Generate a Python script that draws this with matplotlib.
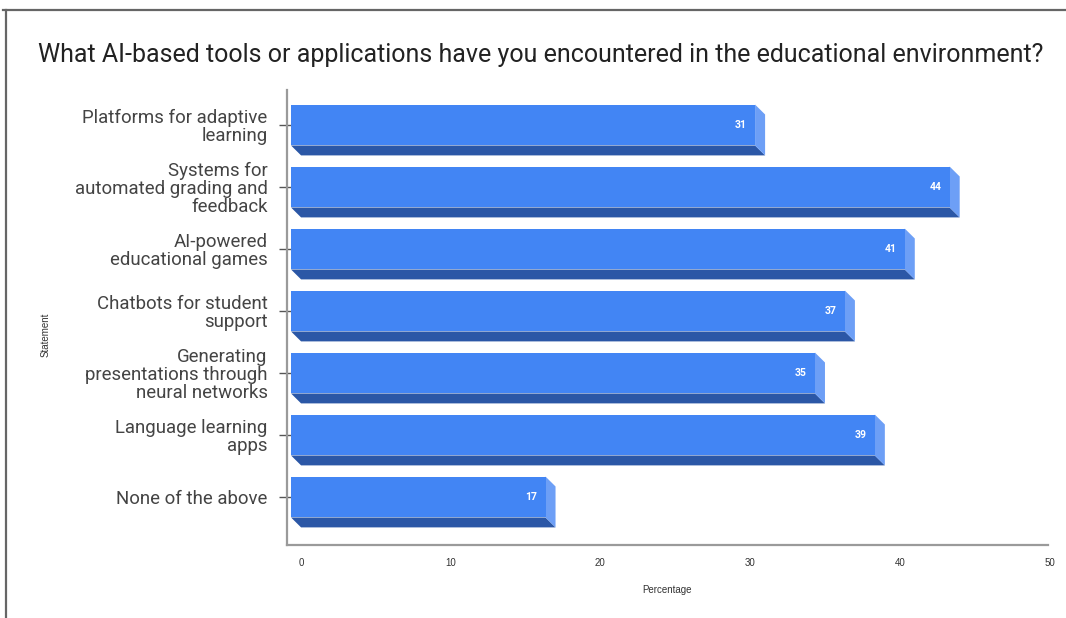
import matplotlib
matplotlib.use("Agg")
import matplotlib.pyplot as plt
import matplotlib.transforms as mtransforms
from matplotlib.patches import Polygon
from matplotlib.lines import Line2D

statements = [
    "Platforms for adaptive\nlearning",
    "Systems for\nautomated grading and\nfeedback",
    "AI-powered\neducational games",
    "Chatbots for student\nsupport",
    "Generating\npresentations through\nneural networks",
    "Language learning\napps",
    "None of the above",
]
percentages = [31, 44, 41, 37, 35, 39, 17]
x_ticks = [0, 10, 20, 30, 40, 50]

front = "#4285F4"
bottom = "#2B57A6"
side = "#6D9FF6"

plt.rcParams['font.family'] = ['Roboto', 'DejaVu Sans']

fig = plt.figure(figsize=(10.66, 6.18), dpi=100)
ax = fig.add_axes([287 / 1066, 73 / 618, 761 / 1066, 455 / 618])

h = 0.66      # front face height
dx = 0.67     # depth offset, x units
dy = 0.16     # depth offset, y units

ys = list(range(len(statements)))
ax.barh(ys, percentages, height=h, color=front, zorder=3)
for y, v in zip(ys, percentages):
    y0, y1 = y - h / 2, y + h / 2
    ax.add_patch(Polygon([(0, y1), (v, y1), (v + dx, y1 + dy), (dx, y1 + dy)],
                         closed=True, color=bottom, lw=0, zorder=2))
    ax.add_patch(Polygon([(v, y0), (v + dx, y0 + dy), (v + dx, y1 + dy), (v, y1)],
                         closed=True, color=side, lw=0, zorder=2))
    ax.annotate(str(v), (v, y), xytext=(-6, 0), textcoords="offset points",
                ha="right", va="center", color="white", fontsize=7.5,
                fontweight="bold", zorder=4)

ax.set_xlim(-0.27, 50.57)
ax.set_ylim(6.774, -0.565)

ax.set_yticks(ys)
ax.set_yticklabels(statements, fontsize=13.4, color="#444444", linespacing=1.0)
ax.tick_params(axis="y", direction="inout", length=12, width=1, color="#555555", pad=8)

ax.set_xticks(x_ticks)
ax.set_xticklabels([str(t) for t in x_ticks], fontsize=7, color="#333333",
                   family=["Liberation Sans"])
ax.tick_params(axis="x", length=0, pad=9)
shift = mtransforms.ScaledTranslation(10 / 100, 0, fig.dpi_scale_trans)
for t in ax.get_xticklabels():
    t.set_transform(t.get_transform() + shift)

for s in ("top", "right"):
    ax.spines[s].set_visible(False)
for s in ("left", "bottom"):
    ax.spines[s].set_color("#9a9a9a")
    ax.spines[s].set_linewidth(1.6)

fig.text(46 / 1066, 1 - 335 / 618, "Statement", rotation=90, ha="center", va="center",
         fontsize=7, color="#333333", family=["Liberation Sans"])
fig.text(667 / 1066, 1 - 590 / 618, "Percentage", ha="center", va="center",
         fontsize=7, color="#333333", family=["Liberation Sans"])
fig.text(38 / 1066, 1 - 55 / 618,
         "What AI-based tools or applications have you encountered in the educational environment?",
         ha="left", va="center", fontsize=18, color="#222222")

# outer frame
fig.add_artist(Line2D([3 / 1066, 1], [1 - 10 / 618, 1 - 10 / 618], color="#666666", lw=1.6))
fig.add_artist(Line2D([6 / 1066, 6 / 1066], [0, 1 - 10 / 618], color="#666666", lw=1.6))

fig.savefig("out.png", dpi=100)
